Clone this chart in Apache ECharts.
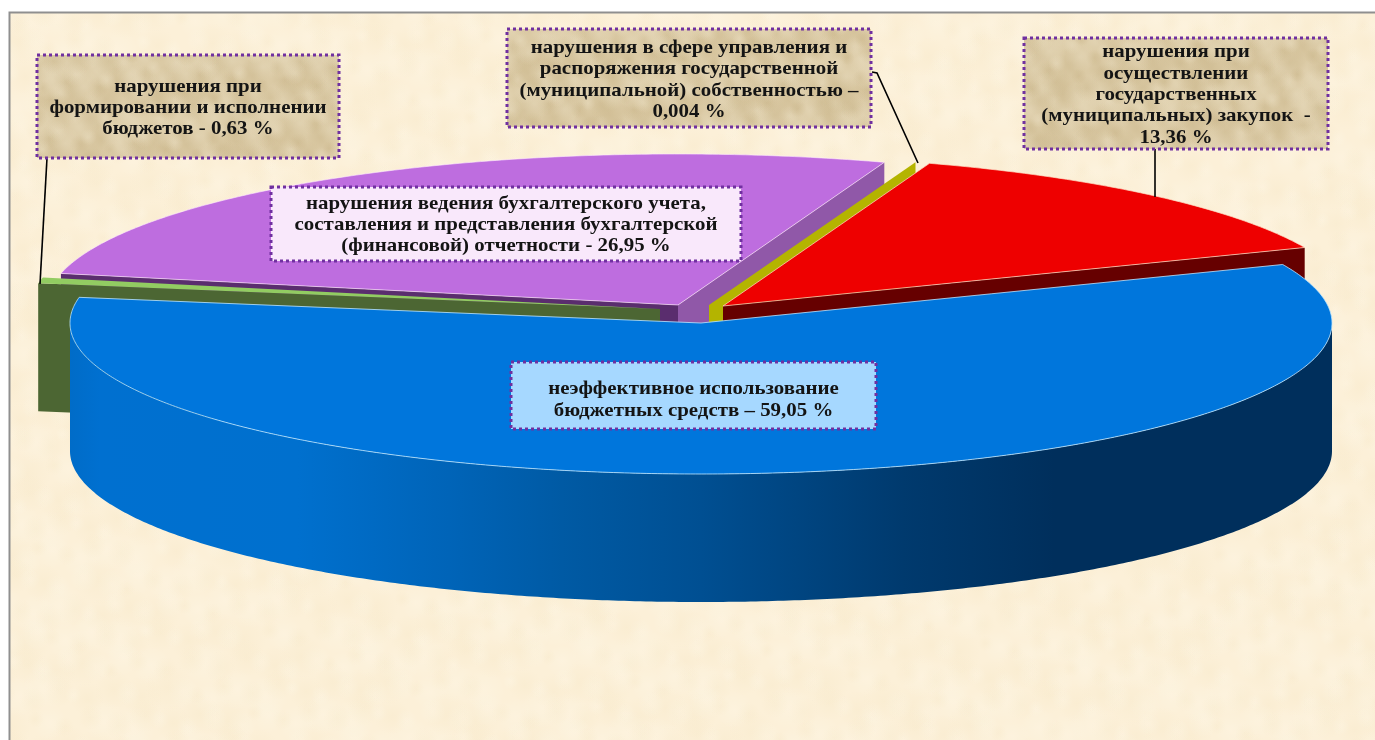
<!DOCTYPE html>
<html>
<head>
<meta charset="utf-8">
<title>Нарушения</title>
<script src="https://cdn.jsdelivr.net/npm/echarts@6/dist/echarts.min.js"></script>
<style>
    html, body { margin: 0; padding: 0; background: #fff; }
    #chart { width: 1375px; height: 740px; }
</style>
</head>
<body>
<div id="chart"></div>
<script>
// clockwise from the right edge of the blue slice
const categories = [
    'неэффективное использование\nбюджетных средств – 59,05 %',
    'нарушения при\nформировании и исполнении\nбюджетов - 0,63 %',
    'нарушения ведения бухгалтерского учета,\nсоставления и представления бухгалтерской\n(финансовой) отчетности - 26,95 %',
    'нарушения в сфере управления и\nраспоряжения государственной\n(муниципальной) собственностью –\n0,004 %',
    'нарушения при\nосуществлении\nгосударственных\n(муниципальных) закупок  -\n13,36 %'
]
const values = [59.05, 0.63, 26.95, 0.004, 13.36]
// back slices first so the front ones cover them
const drawOrder = [2, 1, 3, 4, 0]

const startAngle = 22.8
const rx = 631
const ry = 151
const depth = 128
const centers = [[701, 323], [660, 309], [678, 305], [709, 305], [723, 306]]
const topColors = ['#0076dc', '#92cc62', '#be6ddf', '#b4b400', '#ee0000']
const topStrokes = ['rgba(190,230,255,0.8)', null, 'rgba(255,235,255,0.6)', null, 'rgba(255,225,200,0.7)']
const cutColors = [
    ['#003a6a', '#003a6a'],
    ['#4c6633', '#4c6633'],
    ['#5a2d6e', '#9058a8'],
    ['#b4b400', '#b4b400'],
    ['#660000', '#660000']
]

const total = values.reduce((a, b) => a + b, 0)
const angles = []
let run = startAngle
values.forEach(v => {
    angles.push([run, run - v / total * 360])
    run -= v / total * 360
})

function onEllipse(c, deg, dy) {
    const r = deg * Math.PI / 180
    return [c[0] + rx * Math.cos(r), c[1] - ry * Math.sin(r) + (dy || 0)]
}

function arcPoints(c, from, to, dy) {
    const pts = []
    const steps = Math.max(1, Math.ceil(Math.abs(from - to) / 0.5))
    for (let i = 0; i <= steps; i++) {
        pts.push(onEllipse(c, from + (to - from) * i / steps, dy))
    }
    return pts
}

function renderSlice(params, api) {
    const idx = api.value(0)
    const c = centers[idx]
    const a0 = angles[idx][0]
    const a1 = angles[idx][1]
    const children = []

    const cutFace = (deg, fill) => ({
        type: 'polygon',
        shape: { points: [c, onEllipse(c, deg), onEllipse(c, deg, depth), [c[0], c[1] + depth]] },
        style: { fill: fill }
    })
    if (Math.sin((a0 + 90) * Math.PI / 180) < 0) children.push(cutFace(a0, cutColors[idx][0]))
    if (Math.sin((a1 - 90) * Math.PI / 180) < 0) children.push(cutFace(a1, cutColors[idx][1]))

    // outer wall, only the part of the rim that faces the viewer
    const hi = Math.min(a0, 0)
    const lo = Math.max(a1, -180)
    if (hi > lo) {
        children.push({
            type: 'polygon',
            shape: { points: arcPoints(c, hi, lo, 0).concat(arcPoints(c, lo, hi, depth)) },
            style: {
                fill: {
                    type: 'linear', x: 0, y: 0, x2: 1, y2: 0,
                    colorStops: [
                        { offset: 0, color: '#006cc8' },
                        { offset: 0.024, color: '#0070d0' },
                        { offset: 0.18, color: '#0070ce' },
                        { offset: 0.3, color: '#0064b8' },
                        { offset: 0.39, color: '#005aa4' },
                        { offset: 0.5, color: '#004f92' },
                        { offset: 0.66, color: '#003a6e' },
                        { offset: 0.78, color: '#002f5c' },
                        { offset: 1, color: '#002f5c' }
                    ]
                }
            }
        })
    }

    if (a0 - a1 > 0.5) {
        children.push({
            type: 'polygon',
            shape: { points: [c].concat(arcPoints(c, a0, a1, 0)) },
            style: { fill: topColors[idx], stroke: topStrokes[idx], lineWidth: 1 }
        })
    }
    return { type: 'group', children: children }
}

// soft mottled paper, blotches placed by golden-ratio steps so it is the same every run
function parchment(base, dark, light, w, h, size, count) {
    const cv = document.createElement('canvas')
    cv.width = w
    cv.height = h
    const ctx = cv.getContext('2d')
    ctx.fillStyle = base
    ctx.fillRect(0, 0, w, h)
    for (let i = 0; i < count; i++) {
        const x = (i * 0.61803) % 1 * w
        const y = (i * 0.75488) % 1 * h
        const r = size * (0.5 + (i * 0.41421) % 1)
        const g = ctx.createRadialGradient(x, y, 0, x, y, r)
        const col = i % 2 ? dark : light
        g.addColorStop(0, col)
        g.addColorStop(1, col.replace(/[\d.]+\)$/, '0)'))
        ctx.fillStyle = g
        ctx.fillRect(x - r, y - r, 2 * r, 2 * r)
    }
    return { image: cv, repeat: 'no-repeat' }
}

const pagePaper = parchment('#fcf0d8', 'rgba(240,222,180,0.16)', 'rgba(255,250,238,0.24)', 1400, 760, 16, 2600)
const boxPaper = parchment('#dbcaa5', 'rgba(190,168,120,0.3)', 'rgba(240,230,205,0.35)', 1400, 170, 14, 1100)

function labelBox(idx, x, y, w, h, fill, textY) {
    return [
        {
            type: 'rect',
            shape: { x: x, y: y, width: w, height: h },
            style: { fill: fill, stroke: '#7030a0', lineWidth: 3, lineDash: [3, 3] },
            z: 20
        },
        {
            type: 'text',
            x: x + w / 2,
            y: textY,
            scaleX: 1.1,
            style: {
                text: categories[idx],
                font: 'bold 19px "Liberation Serif", serif',
                fill: '#141414',
                align: 'center',
                verticalAlign: 'middle',
                lineHeight: 21.3
            },
            z: 21
        }
    ]
}

function leader(points) {
    return {
        type: 'polyline',
        shape: { points: points },
        style: { stroke: '#000', lineWidth: 1.6, fill: null },
        z: 10
    }
}

const chart = echarts.init(document.getElementById('chart'))
chart.setOption({
    animation: false,
    graphic: {
        elements: [
            {
                type: 'rect',
                shape: { x: 9.5, y: 12.5, width: 1400, height: 760 },
                style: { fill: pagePaper, stroke: '#8f8f8f', lineWidth: 2 },
                z: -10
            },
            leader([[47, 158], [40, 284]]),
            leader([[872, 72], [877, 73], [918, 163]]),
            leader([[1155, 148], [1155, 197]])
        ]
            .concat(labelBox(1, 37, 55, 302, 103, boxPaper, 108))
            .concat(labelBox(3, 507, 29, 364, 98, boxPaper, 80))
            .concat(labelBox(4, 1024, 38, 304, 111, boxPaper, 95))
            .concat(labelBox(2, 271, 187, 470, 74, '#f9e8fb', 225))
            .concat(labelBox(0, 511, 362, 365, 67, '#a6d8ff', 400))
    },
    series: [{
        type: 'custom',
        coordinateSystem: 'none',
        silent: true,
        renderItem: renderSlice,
        data: drawOrder.map(i => [i, values[i]]),
        z: 5
    }]
})
</script>
</body>
</html>
